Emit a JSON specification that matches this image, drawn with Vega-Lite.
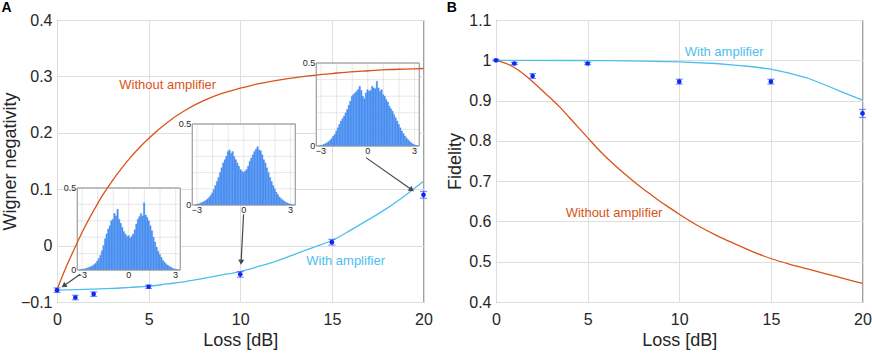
{
  "$schema": "https://vega.github.io/schema/vega-lite/v6.json",
  "padding": {"left": 0, "top": 0, "right": 0, "bottom": 0},
  "background": "white",
  "datasets": {
    "negWithout": [{"loss":0,"v":-0.078},{"loss":0.5,"v":-0.038},{"loss":1,"v":-0.002},{"loss":1.5,"v":0.032},{"loss":2,"v":0.062},{"loss":2.5,"v":0.09},{"loss":3,"v":0.114},{"loss":3.5,"v":0.136},{"loss":4,"v":0.156},{"loss":4.5,"v":0.174},{"loss":5,"v":0.19},{"loss":6,"v":0.218},{"loss":7,"v":0.24},{"loss":8,"v":0.257},{"loss":9,"v":0.27},{"loss":10,"v":0.279},{"loss":11,"v":0.287},{"loss":12,"v":0.293},{"loss":13,"v":0.298},{"loss":14,"v":0.302},{"loss":15,"v":0.305},{"loss":16,"v":0.308},{"loss":17,"v":0.31},{"loss":18,"v":0.312},{"loss":19,"v":0.313},{"loss":20,"v":0.314}],
    "negWith": [{"loss":0,"v":-0.079},{"loss":1,"v":-0.078},{"loss":2,"v":-0.077},{"loss":3,"v":-0.076},{"loss":4,"v":-0.074},{"loss":5,"v":-0.072},{"loss":6,"v":-0.068},{"loss":7,"v":-0.064},{"loss":8,"v":-0.058},{"loss":9,"v":-0.052},{"loss":10,"v":-0.046},{"loss":11,"v":-0.037},{"loss":12,"v":-0.027},{"loss":13,"v":-0.015},{"loss":14,"v":-0.003},{"loss":15,"v":0.009},{"loss":16,"v":0.027},{"loss":17,"v":0.046},{"loss":18,"v":0.066},{"loss":19,"v":0.089},{"loss":20,"v":0.114}],
    "negPts": [{"loss":0,"v":-0.079,"e":0.004},{"loss":1,"v":-0.092,"e":0.004},{"loss":2,"v":-0.086,"e":0.004},{"loss":5,"v":-0.073,"e":0.003},{"loss":10,"v":-0.051,"e":0.005},{"loss":15,"v":0.006,"e":0.005},{"loss":20,"v":0.09,"e":0.006}],
    "fidWithout": [{"loss":0,"v":1.0},{"loss":0.5,"v":0.993},{"loss":1,"v":0.982},{"loss":1.5,"v":0.966},{"loss":2,"v":0.947},{"loss":2.5,"v":0.926},{"loss":3,"v":0.905},{"loss":3.5,"v":0.883},{"loss":4,"v":0.858},{"loss":4.5,"v":0.833},{"loss":5,"v":0.808},{"loss":5.5,"v":0.783},{"loss":6,"v":0.76},{"loss":6.5,"v":0.739},{"loss":7,"v":0.719},{"loss":7.5,"v":0.7},{"loss":8,"v":0.682},{"loss":8.5,"v":0.665},{"loss":9,"v":0.648},{"loss":9.5,"v":0.633},{"loss":10,"v":0.618},{"loss":11,"v":0.59},{"loss":12,"v":0.566},{"loss":13,"v":0.545},{"loss":14,"v":0.525},{"loss":15,"v":0.508},{"loss":16,"v":0.494},{"loss":17,"v":0.482},{"loss":18,"v":0.47},{"loss":19,"v":0.458},{"loss":20,"v":0.446}],
    "fidWith": [{"loss":0,"v":1.0},{"loss":2,"v":1.0},{"loss":4,"v":0.9995},{"loss":6,"v":0.999},{"loss":8,"v":0.998},{"loss":10,"v":0.996},{"loss":12,"v":0.992},{"loss":13,"v":0.988},{"loss":14,"v":0.984},{"loss":15,"v":0.978},{"loss":16,"v":0.968},{"loss":17,"v":0.956},{"loss":18,"v":0.938},{"loss":19,"v":0.919},{"loss":20,"v":0.901}],
    "fidPts": [{"loss":0,"v":1.0,"e":0.002},{"loss":1,"v":0.992,"e":0.003},{"loss":2,"v":0.961,"e":0.006},{"loss":5,"v":0.992,"e":0.003},{"loss":10,"v":0.947,"e":0.006},{"loss":15,"v":0.947,"e":0.006},{"loss":20,"v":0.868,"e":0.01}],
    "labelsA": [{"loss":3.4,"v":0.285,"t":"Without amplifier","s":"Without"},{"loss":13.6,"v":-0.027,"t":"With amplifier","s":"With"}],
    "labelsB": [{"loss":10.3,"v":1.02,"t":"With amplifier","s":"With"},{"loss":3.8,"v":0.621,"t":"Without amplifier","s":"Without"}],
    "arrows": [{"loss":1.27,"v":-0.051,"loss2":0.41,"v2":-0.0704},{"loss":10.18,"v":0.0555,"loss2":10.05,"v2":-0.028},{"loss":16.86,"v":0.156,"loss2":19.32,"v2":0.0998}],
    "box": [{"b":-3.3,"b2":3.3,"c":0,"c2":0.5}],
    "gridV": [{"b":-3,"c":0,"c2":0.5},{"b":-2,"c":0,"c2":0.5},{"b":-1,"c":0,"c2":0.5},{"b":0,"c":0,"c2":0.5},{"b":1,"c":0,"c2":0.5},{"b":2,"c":0,"c2":0.5},{"b":3,"c":0,"c2":0.5}],
    "gridH": [{"c":0.1,"b":-3.3,"b2":3.3},{"c":0.2,"b":-3.3,"b2":3.3},{"c":0.3,"b":-3.3,"b2":3.3},{"c":0.4,"b":-3.3,"b2":3.3}],
    "insetY": [{"b":-3.3,"c":0.5,"t":"0.5"},{"b":-3.3,"c":0,"t":"0"}],
    "insetX": [{"b":-3,"c":0,"t":"−3"},{"b":0,"c":0,"t":"0"},{"b":3,"c":0,"t":"3"}],
    "h1": [{"b":-3.2,"c":0.002},{"b":-3.1,"c":0.004},{"b":-3.0,"c":0.006},{"b":-2.9,"c":0.008},{"b":-2.8,"c":0.01},{"b":-2.7,"c":0.014},{"b":-2.6,"c":0.018},{"b":-2.5,"c":0.022},{"b":-2.4,"c":0.026},{"b":-2.3,"c":0.034},{"b":-2.2,"c":0.042},{"b":-2.1,"c":0.055},{"b":-2.0,"c":0.07},{"b":-1.9,"c":0.09},{"b":-1.8,"c":0.118},{"b":-1.7,"c":0.15},{"b":-1.6,"c":0.19},{"b":-1.5,"c":0.22},{"b":-1.4,"c":0.25},{"b":-1.3,"c":0.27},{"b":-1.2,"c":0.3},{"b":-1.1,"c":0.31},{"b":-1.0,"c":0.345},{"b":-0.9,"c":0.33},{"b":-0.8,"c":0.37},{"b":-0.7,"c":0.31},{"b":-0.6,"c":0.285},{"b":-0.5,"c":0.26},{"b":-0.4,"c":0.235},{"b":-0.3,"c":0.22},{"b":-0.2,"c":0.205},{"b":-0.1,"c":0.21},{"b":0.0,"c":0.195},{"b":0.1,"c":0.205},{"b":0.2,"c":0.22},{"b":0.3,"c":0.245},{"b":0.4,"c":0.28},{"b":0.5,"c":0.31},{"b":0.6,"c":0.325},{"b":0.7,"c":0.345},{"b":0.8,"c":0.33},{"b":0.9,"c":0.41},{"b":1.0,"c":0.335},{"b":1.1,"c":0.32},{"b":1.2,"c":0.3},{"b":1.3,"c":0.27},{"b":1.4,"c":0.24},{"b":1.5,"c":0.2},{"b":1.6,"c":0.17},{"b":1.7,"c":0.14},{"b":1.8,"c":0.115},{"b":1.9,"c":0.095},{"b":2.0,"c":0.078},{"b":2.1,"c":0.06},{"b":2.2,"c":0.048},{"b":2.3,"c":0.038},{"b":2.4,"c":0.03},{"b":2.5,"c":0.024},{"b":2.6,"c":0.018},{"b":2.7,"c":0.012},{"b":2.8,"c":0.008},{"b":2.9,"c":0.005},{"b":3.0,"c":0.003},{"b":3.1,"c":0.001}],
    "h2": [{"b":-3.2,"c":0.002},{"b":-3.1,"c":0.004},{"b":-3.0,"c":0.007},{"b":-2.9,"c":0.01},{"b":-2.8,"c":0.014},{"b":-2.7,"c":0.018},{"b":-2.6,"c":0.024},{"b":-2.5,"c":0.03},{"b":-2.4,"c":0.038},{"b":-2.3,"c":0.048},{"b":-2.2,"c":0.06},{"b":-2.1,"c":0.075},{"b":-2.0,"c":0.095},{"b":-1.9,"c":0.12},{"b":-1.8,"c":0.145},{"b":-1.7,"c":0.17},{"b":-1.6,"c":0.2},{"b":-1.5,"c":0.23},{"b":-1.4,"c":0.26},{"b":-1.3,"c":0.28},{"b":-1.2,"c":0.3},{"b":-1.1,"c":0.33},{"b":-1.0,"c":0.34},{"b":-0.9,"c":0.32},{"b":-0.8,"c":0.33},{"b":-0.7,"c":0.3},{"b":-0.6,"c":0.28},{"b":-0.5,"c":0.26},{"b":-0.4,"c":0.24},{"b":-0.3,"c":0.22},{"b":-0.2,"c":0.21},{"b":-0.1,"c":0.2},{"b":0.0,"c":0.21},{"b":0.1,"c":0.22},{"b":0.2,"c":0.24},{"b":0.3,"c":0.27},{"b":0.4,"c":0.29},{"b":0.5,"c":0.31},{"b":0.6,"c":0.33},{"b":0.7,"c":0.345},{"b":0.8,"c":0.36},{"b":0.9,"c":0.34},{"b":1.0,"c":0.335},{"b":1.1,"c":0.31},{"b":1.2,"c":0.28},{"b":1.3,"c":0.26},{"b":1.4,"c":0.23},{"b":1.5,"c":0.2},{"b":1.6,"c":0.17},{"b":1.7,"c":0.145},{"b":1.8,"c":0.12},{"b":1.9,"c":0.1},{"b":2.0,"c":0.08},{"b":2.1,"c":0.065},{"b":2.2,"c":0.05},{"b":2.3,"c":0.04},{"b":2.4,"c":0.032},{"b":2.5,"c":0.025},{"b":2.6,"c":0.018},{"b":2.7,"c":0.013},{"b":2.8,"c":0.009},{"b":2.9,"c":0.006},{"b":3.0,"c":0.003},{"b":3.1,"c":0.001}],
    "h3": [{"b":-3.2,"c":0.002},{"b":-3.1,"c":0.004},{"b":-3.0,"c":0.006},{"b":-2.9,"c":0.01},{"b":-2.8,"c":0.014},{"b":-2.7,"c":0.02},{"b":-2.6,"c":0.026},{"b":-2.5,"c":0.034},{"b":-2.4,"c":0.045},{"b":-2.3,"c":0.058},{"b":-2.2,"c":0.07},{"b":-2.1,"c":0.09},{"b":-2.0,"c":0.11},{"b":-1.9,"c":0.13},{"b":-1.8,"c":0.15},{"b":-1.7,"c":0.165},{"b":-1.6,"c":0.18},{"b":-1.5,"c":0.2},{"b":-1.4,"c":0.22},{"b":-1.3,"c":0.245},{"b":-1.2,"c":0.27},{"b":-1.1,"c":0.3},{"b":-1.0,"c":0.31},{"b":-0.9,"c":0.32},{"b":-0.8,"c":0.33},{"b":-0.7,"c":0.34},{"b":-0.6,"c":0.36},{"b":-0.5,"c":0.335},{"b":-0.4,"c":0.3},{"b":-0.3,"c":0.285},{"b":-0.2,"c":0.32},{"b":-0.1,"c":0.34},{"b":0.0,"c":0.33},{"b":0.1,"c":0.335},{"b":0.2,"c":0.36},{"b":0.3,"c":0.35},{"b":0.4,"c":0.345},{"b":0.5,"c":0.39},{"b":0.6,"c":0.35},{"b":0.7,"c":0.33},{"b":0.8,"c":0.34},{"b":0.9,"c":0.31},{"b":1.0,"c":0.3},{"b":1.1,"c":0.28},{"b":1.2,"c":0.265},{"b":1.3,"c":0.24},{"b":1.4,"c":0.225},{"b":1.5,"c":0.21},{"b":1.6,"c":0.19},{"b":1.7,"c":0.17},{"b":1.8,"c":0.15},{"b":1.9,"c":0.13},{"b":2.0,"c":0.11},{"b":2.1,"c":0.09},{"b":2.2,"c":0.075},{"b":2.3,"c":0.06},{"b":2.4,"c":0.048},{"b":2.5,"c":0.038},{"b":2.6,"c":0.028},{"b":2.7,"c":0.02},{"b":2.8,"c":0.013},{"b":2.9,"c":0.008},{"b":3.0,"c":0.004},{"b":3.1,"c":0.002}]
  },
  "hconcat": [
    {
      "width": 366.5,
      "height": 282,
      "title": {"text": "A", "anchor": "start", "frame": "bounds", "fontSize": 14, "fontWeight": "bold", "color": "black", "offset": -3},
      "layer": [
        {
          "encoding": {
            "x": {"field": "b", "type": "quantitative", "scale": {"domain": [-3.3, 3.3], "range": [20.3, 123.3]}, "axis": null},
            "y": {"field": "c", "type": "quantitative", "scale": {"domain": [0, 0.5], "range": [250, 168]}, "axis": null}
          },
          "layer": [
            {"data": {"name": "box"}, "mark": {"type": "rect", "fill": "white", "stroke": "#9a9a9a", "strokeWidth": 0.8}, "encoding": {"x2": {"field": "b2"}, "y2": {"field": "c2"}}},
            {"data": {"name": "gridV"}, "mark": {"type": "rule", "color": "#dedede", "strokeWidth": 0.7}, "encoding": {"y2": {"field": "c2"}}},
            {"data": {"name": "gridH"}, "mark": {"type": "rule", "color": "#dedede", "strokeWidth": 0.7}, "encoding": {"x2": {"field": "b2"}}},
            {"data": {"name": "h1"}, "mark": {"type": "bar", "color": "#4a8ff0", "stroke": "#4a8ff0", "strokeWidth": 0.3, "binSpacing": 0},
             "encoding": {"x": {"field": "b", "type": "quantitative", "bin": {"binned": true, "step": 0.1}, "scale": {"domain": [-3.3, 3.3], "range": [20.3, 123.3]}, "axis": null}}},
            {"data": {"name": "box"}, "mark": {"type": "rect", "fill": null, "fillOpacity": 0, "stroke": "#9a9a9a", "strokeWidth": 0.8}, "encoding": {"x2": {"field": "b2"}, "y2": {"field": "c2"}}},
            {"data": {"name": "insetY"}, "mark": {"type": "text", "align": "right", "baseline": "middle", "dx": -1, "fontSize": 9, "color": "#262626"}, "encoding": {"text": {"field": "t"}}},
            {"data": {"name": "insetX"}, "mark": {"type": "text", "align": "center", "baseline": "top", "dy": 1, "fontSize": 9, "color": "#262626"}, "encoding": {"text": {"field": "t"}}}
          ]
        },
        {
          "encoding": {
            "x": {"field": "b", "type": "quantitative", "scale": {"domain": [-3.3, 3.3], "range": [135.3, 238.3]}, "axis": null},
            "y": {"field": "c", "type": "quantitative", "scale": {"domain": [0, 0.5], "range": [185, 104]}, "axis": null}
          },
          "layer": [
            {"data": {"name": "box"}, "mark": {"type": "rect", "fill": "white", "stroke": "#9a9a9a", "strokeWidth": 0.8}, "encoding": {"x2": {"field": "b2"}, "y2": {"field": "c2"}}},
            {"data": {"name": "gridV"}, "mark": {"type": "rule", "color": "#dedede", "strokeWidth": 0.7}, "encoding": {"y2": {"field": "c2"}}},
            {"data": {"name": "gridH"}, "mark": {"type": "rule", "color": "#dedede", "strokeWidth": 0.7}, "encoding": {"x2": {"field": "b2"}}},
            {"data": {"name": "h2"}, "mark": {"type": "bar", "color": "#4a8ff0", "stroke": "#4a8ff0", "strokeWidth": 0.3, "binSpacing": 0},
             "encoding": {"x": {"field": "b", "type": "quantitative", "bin": {"binned": true, "step": 0.1}, "scale": {"domain": [-3.3, 3.3], "range": [135.3, 238.3]}, "axis": null}}},
            {"data": {"name": "box"}, "mark": {"type": "rect", "fill": null, "fillOpacity": 0, "stroke": "#9a9a9a", "strokeWidth": 0.8}, "encoding": {"x2": {"field": "b2"}, "y2": {"field": "c2"}}},
            {"data": {"name": "insetY"}, "mark": {"type": "text", "align": "right", "baseline": "middle", "dx": -1, "fontSize": 9, "color": "#262626"}, "encoding": {"text": {"field": "t"}}},
            {"data": {"name": "insetX"}, "mark": {"type": "text", "align": "center", "baseline": "top", "dy": 1, "fontSize": 9, "color": "#262626"}, "encoding": {"text": {"field": "t"}}}
          ]
        },
        {
          "encoding": {
            "x": {"field": "b", "type": "quantitative", "scale": {"domain": [-3.3, 3.3], "range": [259.3, 362.3]}, "axis": null},
            "y": {"field": "c", "type": "quantitative", "scale": {"domain": [0, 0.5], "range": [126, 43]}, "axis": null}
          },
          "layer": [
            {"data": {"name": "box"}, "mark": {"type": "rect", "fill": "white", "stroke": "#9a9a9a", "strokeWidth": 0.8}, "encoding": {"x2": {"field": "b2"}, "y2": {"field": "c2"}}},
            {"data": {"name": "gridV"}, "mark": {"type": "rule", "color": "#dedede", "strokeWidth": 0.7}, "encoding": {"y2": {"field": "c2"}}},
            {"data": {"name": "gridH"}, "mark": {"type": "rule", "color": "#dedede", "strokeWidth": 0.7}, "encoding": {"x2": {"field": "b2"}}},
            {"data": {"name": "h3"}, "mark": {"type": "bar", "color": "#4a8ff0", "stroke": "#4a8ff0", "strokeWidth": 0.3, "binSpacing": 0},
             "encoding": {"x": {"field": "b", "type": "quantitative", "bin": {"binned": true, "step": 0.1}, "scale": {"domain": [-3.3, 3.3], "range": [259.3, 362.3]}, "axis": null}}},
            {"data": {"name": "box"}, "mark": {"type": "rect", "fill": null, "fillOpacity": 0, "stroke": "#9a9a9a", "strokeWidth": 0.8}, "encoding": {"x2": {"field": "b2"}, "y2": {"field": "c2"}}},
            {"data": {"name": "insetY"}, "mark": {"type": "text", "align": "right", "baseline": "middle", "dx": -1, "fontSize": 9, "color": "#262626"}, "encoding": {"text": {"field": "t"}}},
            {"data": {"name": "insetX"}, "mark": {"type": "text", "align": "center", "baseline": "top", "dy": 1, "fontSize": 9, "color": "#262626"}, "encoding": {"text": {"field": "t"}}}
          ]
        },
        {
          "encoding": {
            "x": {"field": "loss", "type": "quantitative", "scale": {"domain": [0, 20]},
                  "axis": {"orient": "bottom", "values": [0, 5, 10, 15, 20], "format": "d", "title": "Loss [dB]", "grid": true, "labelPadding": 9, "titlePadding": 4}},
            "y": {"field": "v", "type": "quantitative", "scale": {"domain": [-0.1, 0.4]},
                  "axis": {"orient": "left", "values": [-0.1, 0, 0.1, 0.2, 0.3, 0.4], "format": ".1~f", "title": "Wigner negativity", "grid": true, "labelPadding": 5, "titlePadding": 1}}
          },
          "layer": [
            {"data": {"name": "negWithout"}, "mark": {"type": "line", "color": "#D95319", "strokeWidth": 1.3, "interpolate": "monotone"}},
            {"data": {"name": "negWith"}, "mark": {"type": "line", "color": "#4DBEEE", "strokeWidth": 1.3, "interpolate": "monotone"}},
            {"data": {"name": "arrows"}, "mark": {"type": "rule", "color": "#3e4a4c", "strokeWidth": 1.2}, "encoding": {"x2": {"field": "loss2"}, "y2": {"field": "v2"}}},
            {"data": {"values": [{"loss": 0.41, "v": -0.0704}]}, "mark": {"type": "point", "shape": "triangle", "filled": true, "size": 36, "angle": 235, "color": "#3e4a4c", "opacity": 1}},
            {"data": {"values": [{"loss": 10.05, "v": -0.028}]}, "mark": {"type": "point", "shape": "triangle", "filled": true, "size": 36, "angle": 183, "color": "#3e4a4c", "opacity": 1}},
            {"data": {"values": [{"loss": 19.32, "v": 0.0998}]}, "mark": {"type": "point", "shape": "triangle", "filled": true, "size": 36, "angle": 125, "color": "#3e4a4c", "opacity": 1}},
            {"data": {"name": "negPts"}, "mark": {"type": "errorbar", "ticks": true, "size": 7, "thickness": 1.2, "color": "#3a62ff"}, "encoding": {"yError": {"field": "e"}}},
            {"data": {"name": "negPts"}, "mark": {"type": "circle", "size": 22, "color": "#1028f0", "opacity": 1}},
            {"data": {"name": "labelsA"}, "mark": {"type": "text", "align": "left", "baseline": "middle", "fontSize": 13},
             "encoding": {"text": {"field": "t"}, "color": {"field": "s", "type": "nominal", "scale": {"domain": ["Without", "With"], "range": ["#D95319", "#4DBEEE"]}, "legend": null}}}
          ]
        }
      ],
      "resolve": {"scale": {"x": "independent", "y": "independent"}}
    },
    {
      "width": 366.5,
      "height": 282,
      "title": {"text": "B", "anchor": "start", "frame": "bounds", "fontSize": 14, "fontWeight": "bold", "color": "black", "offset": -3},
      "encoding": {
        "x": {"field": "loss", "type": "quantitative", "scale": {"domain": [0, 20]},
              "axis": {"orient": "bottom", "values": [0, 5, 10, 15, 20], "format": "d", "title": "Loss [dB]", "grid": true, "labelPadding": 9, "titlePadding": 4}},
        "y": {"field": "v", "type": "quantitative", "scale": {"domain": [0.4, 1.1]},
              "axis": {"orient": "left", "values": [0.4, 0.5, 0.6, 0.7, 0.8, 0.9, 1, 1.1], "format": ".1~f", "title": "Fidelity", "grid": true, "labelPadding": 5, "titlePadding": 4}}
      },
      "layer": [
        {"data": {"name": "fidWithout"}, "mark": {"type": "line", "color": "#D95319", "strokeWidth": 1.3, "interpolate": "monotone"}},
        {"data": {"name": "fidWith"}, "mark": {"type": "line", "color": "#4DBEEE", "strokeWidth": 1.3}},
        {"data": {"name": "fidPts"}, "mark": {"type": "errorbar", "ticks": true, "size": 7, "thickness": 1.2, "color": "#3a62ff"}, "encoding": {"yError": {"field": "e"}}},
        {"data": {"name": "fidPts"}, "mark": {"type": "circle", "size": 22, "color": "#1028f0", "opacity": 1}},
        {"data": {"name": "labelsB"}, "mark": {"type": "text", "align": "left", "baseline": "middle", "fontSize": 13},
         "encoding": {"text": {"field": "t"}, "color": {"field": "s", "type": "nominal", "scale": {"domain": ["Without", "With"], "range": ["#D95319", "#4DBEEE"]}, "legend": null}}}
      ]
    }
  ],
  "spacing": 13,
  "config": {
    "font": "Liberation Sans",
    "view": {"stroke": "#404040", "strokeWidth": 1},
    "axis": {"labelFontSize": 16, "titleFontSize": 18, "titleFontWeight": "normal", "labelColor": "#262626", "titleColor": "#262626", "gridColor": "#dedede", "gridWidth": 1, "ticks": false, "domain": false, "labelFlush": false, "labelOverlap": false}
  }
}
